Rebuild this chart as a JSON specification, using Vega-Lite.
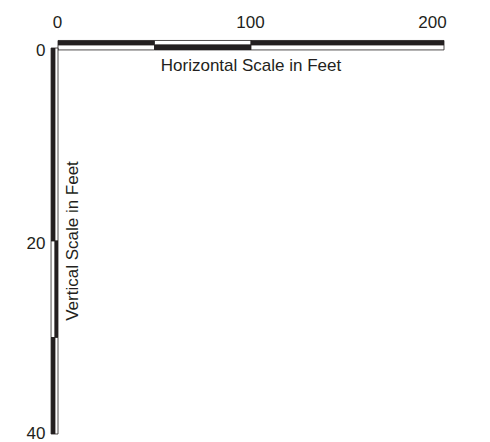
{
  "$schema": "https://vega.github.io/schema/vega-lite/v6.json",
  "width": 386,
  "height": 386,
  "autosize": {"type": "none"},
  "padding": {"left": 58, "top": 48, "right": 46, "bottom": 8},
  "background": "white",
  "config": {"view": {"stroke": null}, "font": "Liberation Sans"},
  "datasets": {
    "bars": [
      {"x": 0, "x2": 50, "y": -0.78, "y2": -0.31, "c": "black"},
      {"x": 0, "x2": 50, "y": -0.31, "y2": 0.2, "c": "white"},
      {"x": 50, "x2": 100, "y": -0.78, "y2": -0.31, "c": "white"},
      {"x": 50, "x2": 100, "y": -0.31, "y2": 0.2, "c": "black"},
      {"x": 100, "x2": 200, "y": -0.78, "y2": -0.31, "c": "black"},
      {"x": 100, "x2": 200, "y": -0.31, "y2": 0.2, "c": "white"},
      {"x": -3.6, "x2": -1.55, "y": 0, "y2": 20, "c": "black"},
      {"x": -1.55, "x2": 0, "y": 0, "y2": 20, "c": "white"},
      {"x": -3.6, "x2": -1.55, "y": 20, "y2": 30, "c": "white"},
      {"x": -1.55, "x2": 0, "y": 20, "y2": 30, "c": "black"},
      {"x": -3.6, "x2": -1.55, "y": 30, "y2": 40, "c": "black"},
      {"x": -1.55, "x2": 0, "y": 30, "y2": 40, "c": "white"}
    ],
    "labels": [
      {"x": 100, "y": 1.87, "t": "Horizontal Scale in Feet", "a": 0},
      {"x": 7.8, "y": 20, "t": "Vertical Scale in Feet", "a": 270}
    ]
  },
  "layer": [
    {
      "data": {"name": "bars"},
      "mark": {"type": "rect", "stroke": "#231f20", "strokeWidth": 0.8, "clip": false},
      "encoding": {
        "x": {
          "field": "x", "type": "quantitative",
          "scale": {"domain": [0, 200], "nice": false, "zero": false},
          "axis": {"orient": "top", "values": [0, 100, 200], "domain": false, "ticks": false, "grid": false, "title": null, "labelFontSize": 17, "labelColor": "#231f20", "labelPadding": 17, "labelFont": "Liberation Sans", "labelFlush": false,
            "labelOffset": {"condition": {"test": "datum.value == 200", "value": -12}, "value": -1}}
        },
        "x2": {"field": "x2"},
        "y": {
          "field": "y", "type": "quantitative",
          "scale": {"domain": [0, 40], "nice": false, "zero": false, "reverse": true},
          "axis": {"orient": "left", "values": [0, 20, 40], "domain": false, "ticks": false, "grid": false, "title": null, "labelFontSize": 17, "labelColor": "#231f20", "labelPadding": 13, "labelFont": "Liberation Sans", "labelFlush": false,
            "labelOffset": {"condition": {"test": "datum.value == 40", "value": -1}, "value": 2}}
        },
        "y2": {"field": "y2"},
        "fill": {
          "field": "c", "type": "nominal",
          "scale": {"domain": ["black", "white"], "range": ["#231f20", "#ffffff"]},
          "legend": null
        }
      }
    },
    {
      "data": {"name": "labels"},
      "mark": {"type": "text", "fontSize": 17, "font": "Liberation Sans", "color": "#231f20", "baseline": "middle", "align": "center"},
      "encoding": {
        "x": {"field": "x", "type": "quantitative"},
        "y": {"field": "y", "type": "quantitative"},
        "text": {"field": "t"},
        "angle": {"field": "a", "type": "quantitative", "scale": null}
      }
    }
  ]
}
